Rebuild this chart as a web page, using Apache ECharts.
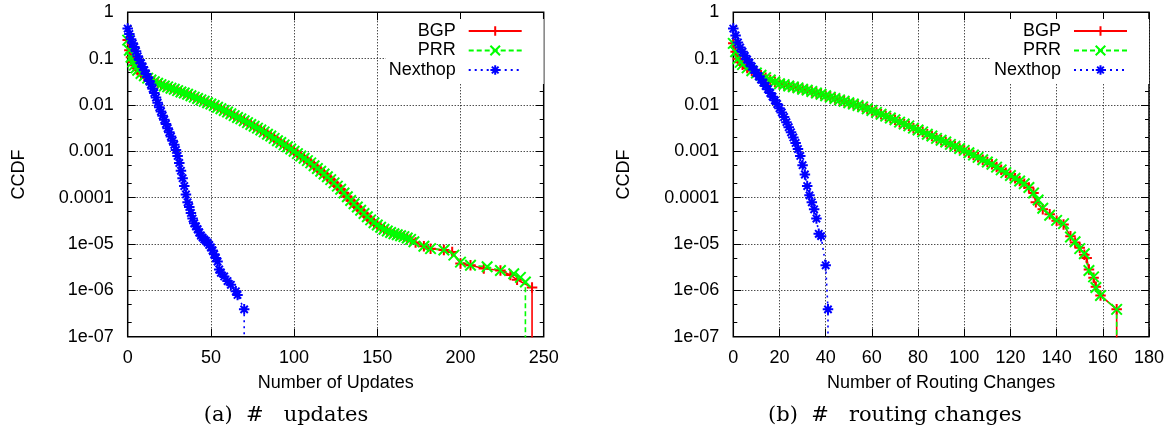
<!DOCTYPE html>
<html>
<head>
<meta charset="utf-8">
<script src="https://cdn.jsdelivr.net/npm/echarts@6/dist/echarts.min.js"></script>
<style>
html,body{margin:0;padding:0;background:#fff;}
#c{width:1174px;height:432px;}
</style>
</head>
<body>
<div id="c"></div>
<script>
// ---------- DATA (x, log10 CCDF) ----------
// (a) Number of Updates
const bgpUpdates = [
[0,-0.60],[1,-0.82],[2,-0.97],[3,-1.07],[4,-1.14],[5,-1.20],[6,-1.25],[8,-1.32],[10,-1.37],[12,-1.42],[14,-1.46],[16,-1.50],[18,-1.53],[20,-1.56],[22,-1.59],[24,-1.61],[26,-1.64],[28,-1.66],[30,-1.69],[32,-1.72],[34,-1.74],[36,-1.77],[38,-1.80],[40,-1.83],[42,-1.86],[44,-1.89],[46,-1.92],[48,-1.95],[50,-1.98],[52,-2.01],[54,-2.05],[56,-2.08],[58,-2.12],[60,-2.15],[62,-2.19],[64,-2.23],[66,-2.27],[68,-2.30],[70,-2.34],[72,-2.38],[74,-2.42],[76,-2.46],[78,-2.50],[80,-2.54],[82,-2.58],[84,-2.63],[86,-2.67],[88,-2.72],[90,-2.77],[92,-2.81],[94,-2.86],[96,-2.90],[98,-2.95],[100,-3.00],[102,-3.05],[104,-3.10],[106,-3.15],[108,-3.20],[110,-3.25],[112,-3.31],[114,-3.37],[116,-3.43],[118,-3.49],[120,-3.55],[122,-3.61],[124,-3.68],[126,-3.75],[128,-3.82],[130,-3.90],[132,-3.98],[134,-4.06],[136,-4.13],[138,-4.20],[140,-4.27],[142,-4.34],[144,-4.41],[146,-4.48],[148,-4.54],[150,-4.59],[152,-4.64],[154,-4.68],[156,-4.72],[158,-4.75],[160,-4.78],[162,-4.80],[164,-4.82],[166,-4.84],[168,-4.87],[170,-4.90],
[173,-4.97],[178,-5.05],[182,-5.10],[190,-5.13],[195,-5.17],[200,-5.42],[206,-5.46],[214,-5.53],[224,-5.57],[230,-5.67],[234,-5.77],[243,-5.94]
];
const bgpUpdatesMax = 243;
const prrUpdates = [
[0,-0.60],[1,-0.82],[2,-0.97],[3,-1.07],[4,-1.14],[5,-1.20],[6,-1.25],[8,-1.32],[10,-1.37],[12,-1.42],[14,-1.46],[16,-1.50],[18,-1.53],[20,-1.56],[22,-1.59],[24,-1.61],[26,-1.64],[28,-1.66],[30,-1.69],[32,-1.72],[34,-1.74],[36,-1.77],[38,-1.80],[40,-1.83],[42,-1.86],[44,-1.89],[46,-1.92],[48,-1.95],[50,-1.98],[52,-2.01],[54,-2.05],[56,-2.08],[58,-2.12],[60,-2.15],[62,-2.19],[64,-2.23],[66,-2.27],[68,-2.30],[70,-2.34],[72,-2.38],[74,-2.42],[76,-2.46],[78,-2.50],[80,-2.54],[82,-2.58],[84,-2.63],[86,-2.67],[88,-2.72],[90,-2.77],[92,-2.81],[94,-2.86],[96,-2.90],[98,-2.95],[100,-3.00],[102,-3.05],[104,-3.10],[106,-3.15],[108,-3.20],[110,-3.25],[112,-3.31],[114,-3.37],[116,-3.43],[118,-3.49],[120,-3.55],[122,-3.61],[124,-3.68],[126,-3.75],[128,-3.82],[130,-3.90],[132,-3.98],[134,-4.06],[136,-4.13],[138,-4.20],[140,-4.27],[142,-4.34],[144,-4.41],[146,-4.48],[148,-4.54],[150,-4.59],[152,-4.64],[154,-4.68],[156,-4.72],[158,-4.75],[160,-4.78],[162,-4.80],[164,-4.82],[166,-4.84],[168,-4.87],[170,-4.90],
[172,-4.95],[178,-5.05],[182,-5.10],[190,-5.13],[196,-5.24],[200,-5.39],[206,-5.46],[216,-5.49],[224,-5.57],[232,-5.64],[236,-5.72],[239,-5.82]
];
const prrUpdatesMax = 239;
const nexthopUpdates = [
[0,-0.35],[1,-0.47],[2,-0.58],[3,-0.67],[4,-0.75],[5,-0.84],[6,-0.95],[7,-1.03],[8,-1.10],[9,-1.18],[10,-1.25],[11,-1.33],[12,-1.40],[13,-1.48],[14,-1.56],[15,-1.65],[16,-1.74],[17,-1.84],[18,-1.95],[19,-2.05],[20,-2.14],[21,-2.23],[22,-2.32],[23,-2.41],[24,-2.50],[25,-2.59],[26,-2.68],[27,-2.77],[28,-2.86],[29,-2.97],[30,-3.10],[31,-3.25],[32,-3.42],[33,-3.58],[34,-3.75],[35,-3.93],[36,-4.10],[37,-4.20],[38,-4.33],[39,-4.45],[40,-4.55],[41,-4.62],[42,-4.68],[43,-4.75],[44,-4.82],[45,-4.86],[46,-4.90],[47,-4.93],[48,-4.97],[49,-5.02],[50,-5.07],[51,-5.14],[52,-5.22],[53,-5.30],[54,-5.38],[55,-5.55],[56,-5.62],[58,-5.70],[60,-5.80],[62,-5.88],[65,-6.02],[66,-6.10],[70,-6.41]
];
const nexthopUpdatesMax = 70;

// (b) Number of Routing Changes
const bgpChanges = [
[0,-0.67],[1,-0.85],[2,-1.00],[3,-1.08],[4,-1.13],[6,-1.20],[8,-1.26],[10,-1.31],[12,-1.36],[14,-1.41],[16,-1.46],[18,-1.50],[20,-1.54],[22,-1.56],[24,-1.59],[26,-1.61],[28,-1.63],[30,-1.66],[32,-1.68],[34,-1.71],[36,-1.74],[38,-1.77],[40,-1.80],[42,-1.83],[44,-1.86],[46,-1.89],[48,-1.92],[50,-1.95],[52,-1.98],[54,-2.01],[56,-2.04],[58,-2.08],[60,-2.12],[62,-2.16],[64,-2.20],[66,-2.24],[68,-2.28],[70,-2.32],[72,-2.37],[74,-2.41],[76,-2.45],[78,-2.50],[80,-2.54],[82,-2.58],[84,-2.63],[86,-2.67],[88,-2.72],[90,-2.76],[92,-2.80],[94,-2.85],[96,-2.89],[98,-2.94],[100,-2.98],[102,-3.03],[104,-3.08],[106,-3.13],[108,-3.18],[110,-3.23],[112,-3.28],[114,-3.34],[116,-3.40],[118,-3.46],[120,-3.52],[122,-3.58],[124,-3.64],[126,-3.70],[128,-3.78],[130,-3.90],
[131,-4.10],[134,-4.25],[137,-4.36],[140,-4.50],[143,-4.58],[146,-4.83],[148,-4.97],[150,-5.08],[152,-5.23],[153,-5.30],[154,-5.55],[156,-5.73],[157,-5.92],[159,-6.11],[166,-6.41]
];
const bgpChangesMax = 166;
const prrChanges = [
[0,-0.67],[1,-0.85],[2,-1.00],[3,-1.08],[4,-1.13],[6,-1.20],[8,-1.26],[10,-1.31],[12,-1.36],[14,-1.41],[16,-1.46],[18,-1.50],[20,-1.54],[22,-1.56],[24,-1.59],[26,-1.61],[28,-1.63],[30,-1.66],[32,-1.68],[34,-1.71],[36,-1.74],[38,-1.77],[40,-1.80],[42,-1.83],[44,-1.86],[46,-1.89],[48,-1.92],[50,-1.95],[52,-1.98],[54,-2.01],[56,-2.04],[58,-2.08],[60,-2.12],[62,-2.16],[64,-2.20],[66,-2.24],[68,-2.28],[70,-2.32],[72,-2.37],[74,-2.41],[76,-2.45],[78,-2.50],[80,-2.54],[82,-2.58],[84,-2.63],[86,-2.67],[88,-2.72],[90,-2.76],[92,-2.80],[94,-2.85],[96,-2.89],[98,-2.94],[100,-2.98],[102,-3.03],[104,-3.08],[106,-3.13],[108,-3.18],[110,-3.23],[112,-3.28],[114,-3.34],[116,-3.40],[118,-3.46],[120,-3.52],[122,-3.58],[124,-3.64],[126,-3.70],[128,-3.78],[130,-3.90],
[132,-4.05],[134,-4.23],[137,-4.38],[140,-4.49],[143,-4.56],[146,-4.85],[148,-4.95],[150,-5.10],[152,-5.21],[154,-5.57],[156,-5.71],[157,-5.94],[159,-6.11],[166,-6.41]
];
const prrChangesMax = 166;
const nexthopChanges = [
[0,-0.35],[1,-0.50],[2,-0.65],[3,-0.76],[4,-0.85],[5,-0.94],[6,-1.02],[7,-1.09],[8,-1.17],[9,-1.24],[10,-1.31],[11,-1.38],[12,-1.45],[13,-1.52],[14,-1.59],[15,-1.66],[16,-1.74],[17,-1.82],[18,-1.90],[19,-1.98],[20,-2.07],[21,-2.16],[22,-2.26],[23,-2.37],[24,-2.48],[25,-2.59],[26,-2.70],[27,-2.82],[28,-2.95],[29,-3.10],[30,-3.30],[31,-3.50],[32,-3.75],[33,-3.95],[34,-4.10],[35,-4.25],[36,-4.45],[37,-4.78],[38,-4.83],[40,-5.46],[41,-6.41]
];
const nexthopChangesMax = 41;

// ---------- axes ----------
const xUpdates = {min: 0, max: 250, interval: 50};
const xChanges = {min: 0, max: 180, interval: 20};
const yTickLabels = ['1', '0.1', '0.01', '0.001', '0.0001', '1e-05', '1e-06', '1e-07'];
const yMinorTicks = [0.5,0.2,0.05,0.02,5e-3,2e-3,5e-4,2e-4,5e-5,2e-5,5e-6,2e-6,5e-7,2e-7];
const ZERO = 1e-10; // CCDF reaches 0 after the last point (drawn to the bottom edge)

// ---------- build ----------
function toData(pairs, lastX) {
  const d = pairs.map(p => [p[0], Math.pow(10, p[1])]);
  d.push([lastX, ZERO]);
  return d;
}

const FONT = 'Liberation Sans';
const symPlus = 'path://M0,5L10,5M5,0L5,10';
const symCross = 'path://M0,0L10,10M10,0L0,10';
const symStar = 'path://M0,5L10,5M5,0L5,10M1.5,1.5L8.5,8.5M8.5,1.5L1.5,8.5';

const grids = [
  {left: 127.7, top: 12.3, width: 416, height: 324.4},
  {left: 733.3, top: 12.3, width: 415.7, height: 324.4}
];

const gridOpts = grids.map(g => Object.assign({
  show: true, borderColor: '#000', borderWidth: 1.5, backgroundColor: 'transparent',
  containLabel: false, outerBoundsMode: 'none'
}, g));

const tickStyle = {color: '#000', width: 1};
const splitStyle = {color: '#000', width: 1, type: [1, 2]};

function xAxes(gi, sc, title) {
  return [
    {gridIndex: gi, type: 'value', position: 'bottom', min: sc.min, max: sc.max, interval: sc.interval,
     axisLine: {show: false}, axisTick: {show: true, inside: true, length: 8, lineStyle: tickStyle},
     axisLabel: {show: true, margin: 12, color: '#000', fontSize: 18, fontFamily: FONT},
     splitLine: {show: true, lineStyle: splitStyle},
     name: title, nameLocation: 'middle', nameGap: 37,
     nameTextStyle: {color: '#000', fontSize: 18, fontFamily: FONT}},
    {gridIndex: gi, type: 'value', position: 'top', min: sc.min, max: sc.max, interval: sc.interval,
     axisLine: {show: false}, axisTick: {show: true, inside: true, length: 8, lineStyle: tickStyle},
     axisLabel: {show: false}, splitLine: {show: false}}
  ];
}
function yAxes(gi) {
  const base = {gridIndex: gi, type: 'log', logBase: 10, min: 1e-7, max: 1, splitNumber: 7, interval: 1,
                axisLine: {show: false}};
  return [
    Object.assign({}, base, {position: 'left',
      axisTick: {show: true, inside: true, length: 8, lineStyle: tickStyle},
      axisLabel: {show: true, margin: 14, color: '#000', fontSize: 18, fontFamily: FONT,
        formatter: v => yTickLabels[Math.round(-Math.log10(v))]},
      splitLine: {show: true, lineStyle: splitStyle},
      name: 'CCDF', nameLocation: 'middle', nameRotate: 90, nameGap: 100,
      nameTextStyle: {color: '#000', fontSize: 18, fontFamily: FONT}}),
    Object.assign({}, base, {position: 'left',
      axisTick: {show: true, inside: true, length: 4, lineStyle: tickStyle, customValues: yMinorTicks},
      axisLabel: {show: false}, splitLine: {show: false}}),
    Object.assign({}, base, {position: 'right',
      axisTick: {show: true, inside: true, length: 8, lineStyle: tickStyle},
      axisLabel: {show: false}, splitLine: {show: false}}),
    Object.assign({}, base, {position: 'right',
      axisTick: {show: true, inside: true, length: 4, lineStyle: tickStyle, customValues: yMinorTicks},
      axisLabel: {show: false}, splitLine: {show: false}})
  ];
}

function ser(name, data, xi, yi, color, symbol, lineType) {
  return {
    type: 'line', name: name, data: data, xAxisIndex: xi, yAxisIndex: yi,
    symbol: symbol, symbolSize: 10.5, showSymbol: true, showAllSymbol: true,
    lineStyle: {color: color, width: 1.6, type: lineType},
    itemStyle: {color: color, borderColor: color, borderWidth: 2},
    clip: true, animation: false, emphasis: {disabled: true}, silent: true
  };
}

const RED = '#ff0000', GREEN = '#00ff00', BLUE = '#0000ff';
const DASH = [5, 3], DOT = [2, 4];

function legendAt(rightPx) {
  return {
    data: ['BGP', 'PRR', 'Nexthop'], orient: 'vertical', align: 'right',
    right: rightPx, top: 19, padding: [3, 21, 5, 3],
    itemWidth: 53, itemHeight: 12, itemGap: 1.5,
    backgroundColor: '#fff', selectedMode: false,
    textStyle: {color: '#000', fontSize: 18, fontFamily: FONT, lineHeight: 14, padding: [0, 8, 0, 0]}
  };
}

const option = {
  animation: false,
  backgroundColor: '#fff',
  grid: gridOpts,
  xAxis: [].concat(xAxes(0, xUpdates, 'Number of Updates'), xAxes(1, xChanges, 'Number of Routing Changes')),
  yAxis: [].concat(yAxes(0), yAxes(1)),
  legend: [legendAt(1174 - 543.7), legendAt(1174 - 1149)],
  title: [
    {text: '(a)  #   updates', left: 286, top: 405, textAlign: 'center', padding: 0,
     textStyle: {fontFamily: 'DejaVu Serif', fontSize: 21, fontWeight: 'normal', color: '#000'}},
    {text: '(b)  #   routing changes', left: 895, top: 405, textAlign: 'center', padding: 0,
     textStyle: {fontFamily: 'DejaVu Serif', fontSize: 21, fontWeight: 'normal', color: '#000'}}
  ],
  series: [
    ser('BGP', toData(bgpUpdates, bgpUpdatesMax), 0, 0, RED, symPlus, 'solid'),
    ser('PRR', toData(prrUpdates, prrUpdatesMax), 0, 0, GREEN, symCross, DASH),
    ser('Nexthop', toData(nexthopUpdates, nexthopUpdatesMax), 0, 0, BLUE, symStar, DOT),
    ser('BGP', toData(bgpChanges, bgpChangesMax), 2, 4, RED, symPlus, 'solid'),
    ser('PRR', toData(prrChanges, prrChangesMax), 2, 4, GREEN, symCross, DASH),
    ser('Nexthop', toData(nexthopChanges, nexthopChangesMax), 2, 4, BLUE, symStar, DOT)
  ]
};

const chart = echarts.init(document.getElementById('c'), null, {renderer: 'canvas'});
chart.setOption(option);
</script>
</body>
</html>
